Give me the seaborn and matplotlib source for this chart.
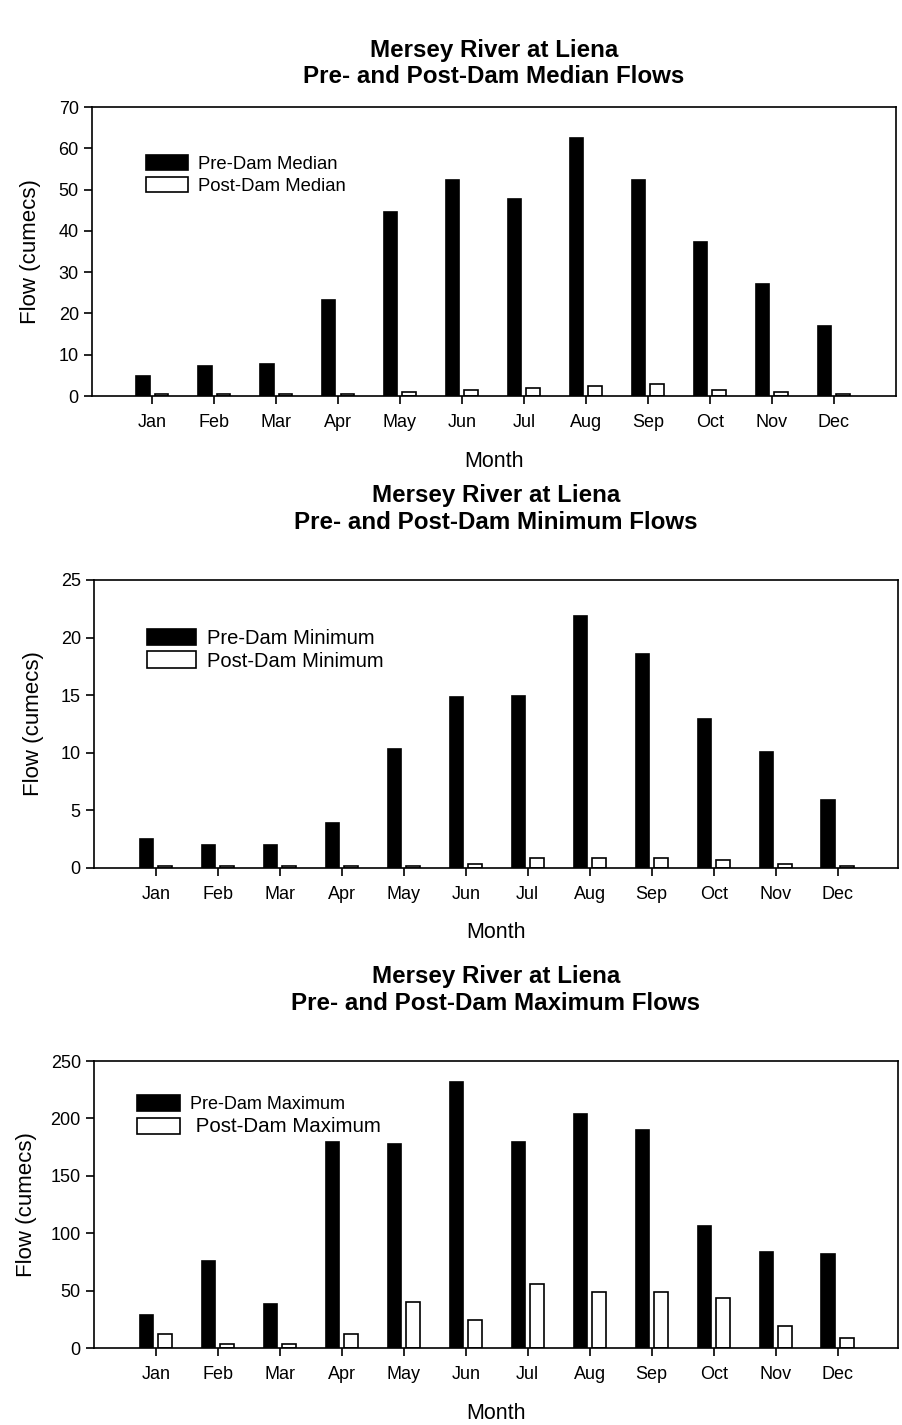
import matplotlib
matplotlib.use("Agg")
import matplotlib.pyplot as plt
import pandas as pd
import seaborn as sns

# Monthly flows for the Mersey River at Liena (cumecs)
months = ["Jan", "Feb", "Mar", "Apr", "May", "Jun",
          "Jul", "Aug", "Sep", "Oct", "Nov", "Dec"]

pre_median = [4.9, 7.3, 7.8, 23.3, 44.6, 52.4, 47.6, 62.6, 52.4, 37.4, 27.2, 17.0]
post_median = [0.5, 0.5, 0.5, 0.5, 1.0, 1.5, 1.9, 2.4, 2.9, 1.4, 1.0, 0.5]

pre_minimum = [2.5, 2.0, 2.0, 3.9, 10.3, 14.8, 14.9, 21.9, 18.6, 12.9, 10.1, 5.9]
post_minimum = [0.2, 0.2, 0.2, 0.2, 0.2, 0.37, 0.9, 0.9, 0.9, 0.72, 0.37, 0.2]

pre_maximum = [28.4, 75.4, 38.8, 179.8, 178.0, 232.0, 179.8, 204.0, 190.0, 106.7, 84.0, 82.3]
post_maximum = [12.2, 3.5, 3.5, 12.2, 40.0, 24.4, 55.7, 48.7, 48.7, 43.5, 19.1, 8.7]

titles = [
    "Mersey River at Liena\nPre- and Post-Dam Median Flows",
    "Mersey River at Liena\nPre- and Post-Dam Minimum Flows",
    "Mersey River at Liena\nPre- and Post-Dam Maximum Flows",
]
series_labels = [
    ("Pre-Dam Median", "Post-Dam Median"),
    ("Pre-Dam Minimum", "Post-Dam Minimum"),
    ("Pre-Dam Maximum", " Post-Dam Maximum"),
]
y_ticks = [
    [0, 10, 20, 30, 40, 50, 60, 70],
    [0, 5, 10, 15, 20, 25],
    [0, 50, 100, 150, 200, 250],
]
series_values = [
    (pre_median, post_median),
    (pre_minimum, post_minimum),
    (pre_maximum, post_maximum),
]

sns.set_style("ticks")
plt.rcParams["font.family"] = ["Liberation Sans", "DejaVu Sans"]
plt.rcParams.update({
    "axes.linewidth": 1.2,
    "xtick.major.width": 1.2,
    "ytick.major.width": 1.2,
    "xtick.major.size": 5.5,
    "ytick.major.size": 5.5,
    "xtick.major.pad": 7.5,
    "ytick.major.pad": 4,
    "xtick.direction": "out",
    "ytick.direction": "out",
    "axes.edgecolor": "black",
    "axes.labelcolor": "black",
    "xtick.color": "black",
    "ytick.color": "black",
    "xtick.labelcolor": "black",
    "ytick.labelcolor": "black",
    "text.color": "black",
})

fig = plt.figure(figsize=(9.02, 14.25), dpi=100)

rects = [
    [0.102, 0.7221, 0.891, 0.2028],
    [0.1042, 0.3909, 0.891, 0.2021],
    [0.1042, 0.0540, 0.891, 0.2014],
]
xlims = [(-0.97, 12.0), (-1.0, 11.97), (-1.0, 11.97)]
title_pads = [17, 37, 37]
ylabel_pads = [13, 12, 10]

# legend layout per panel: anchor, font sizes (first, second), handle size
legend_specs = [
    dict(anchor=(0.0668, 0.764), sizes=(13.3, 13.3), hl=2.3, hh=0.85, tp=0.55, ls=0.24),
    dict(anchor=(0.0663, 0.758), sizes=(14.5, 14.5), hl=2.4, hh=0.9, tp=0.55, ls=0.16),
    dict(anchor=(0.0539, 0.809), sizes=(13.0, 14.8), hl=2.35, hh=0.95, tp=0.55, ls=0.22),
]

for i in range(3):
    ax = fig.add_axes(rects[i])
    pre, post = series_values[i]
    pre_lab, post_lab = series_labels[i]
    df = pd.DataFrame({
        "Month": months * 2,
        "Flow": list(pre) + list(post),
        "Series": [pre_lab] * len(months) + [post_lab] * len(months),
    })
    sns.barplot(
        data=df, x="Month", y="Flow", hue="Series",
        order=months, hue_order=[pre_lab, post_lab],
        palette=["black", "white"], saturation=1,
        edgecolor="black", linewidth=1.2,
        width=0.6, gap=0.27, errorbar=None, ax=ax,
    )

    ax.set_xlim(*xlims[i])
    ax.set_ylim(0, y_ticks[i][-1])
    ax.set_yticks(y_ticks[i])
    ax.tick_params(axis="both", labelsize=13)
    for side in ["top", "right", "left", "bottom"]:
        ax.spines[side].set_visible(True)
        ax.spines[side].set_linewidth(1.2)
        ax.spines[side].set_color("black")

    ax.set_xlabel("Month", fontsize=15.5, labelpad=14)
    ax.set_ylabel("Flow (cumecs)", fontsize=16, labelpad=ylabel_pads[i])
    ax.set_title(titles[i], fontsize=17.4, fontweight="bold", pad=title_pads[i])

    spec = legend_specs[i]
    handles, labels = ax.get_legend_handles_labels()
    leg = ax.legend(
        handles, labels, loc="center left", bbox_to_anchor=spec["anchor"],
        frameon=False, fontsize=spec["sizes"][0],
        handlelength=spec["hl"], handleheight=spec["hh"],
        handletextpad=spec["tp"], labelspacing=spec["ls"],
        borderpad=0, borderaxespad=0,
    )
    for h in leg.legend_handles:
        h.set_edgecolor("black")
        h.set_linewidth(1.2)
    leg.get_texts()[1].set_fontsize(spec["sizes"][1])

fig.savefig("out.png", dpi=100)
